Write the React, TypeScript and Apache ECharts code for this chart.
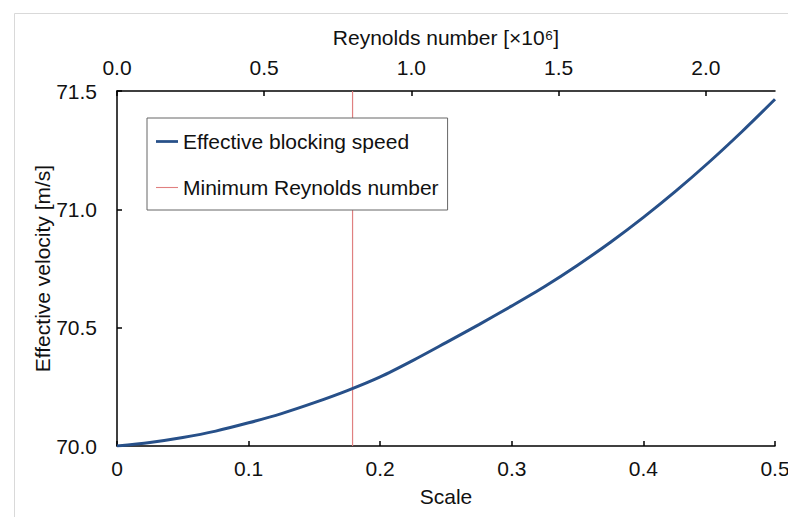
import React, { useEffect, useRef } from "react";
import * as echarts from "echarts";

// Model scale (x) and effective blocking speed in m/s (y)
const scaleValues = [
  0, 0.025, 0.05, 0.075, 0.1, 0.125, 0.15, 0.175, 0.2, 0.225, 0.25, 0.275,
  0.3, 0.325, 0.35, 0.375, 0.4, 0.425, 0.45, 0.475, 0.5,
];
const effectiveSpeed = [
  70.0, 70.015, 70.036, 70.063, 70.098, 70.137, 70.183, 70.234, 70.292,
  70.362, 70.437, 70.513, 70.592, 70.674, 70.764, 70.861, 70.966, 71.079,
  71.2, 71.329, 71.465,
];

// Scale at which the minimum Reynolds number is reached
const minReynoldsScale = 0.179;
const velocityRange = [70.0, 71.5];

// Reynolds number range (×10^6) matching scale 0 … 0.5
const reynoldsRange = [0, 2.235];

const seriesNames = ["Effective blocking speed", "Minimum Reynolds number"];
const axisNames = {
  x: "Scale",
  xTop: "Reynolds number [×10⁶]",
  y: "Effective velocity [m/s]",
};

const FONT = "'Liberation Sans', Arial, sans-serif";
const TEXT = "#111";
const AXIS = "#000";
const BLUE = "#275089";
const RED = "#e08080";

export default function App() {
  const ref = useRef<HTMLDivElement>(null);

  useEffect(() => {
    document.body.style.margin = "0";
    if (!ref.current) return;
    const chart = echarts.init(ref.current, null, { renderer: "svg" });

    const curve = scaleValues.map((s, i) => [s, effectiveSpeed[i]]);
    const marker = velocityRange.map((v) => [minReynoldsScale, v]);

    const axisLine = { show: true, lineStyle: { color: AXIS, width: 1.5 } };
    const axisTick = {
      show: true,
      inside: true,
      length: 5,
      lineStyle: { color: AXIS, width: 1.5 },
    };
    const label = { color: TEXT, fontFamily: FONT, fontSize: 21 };
    const nameStyle = { color: TEXT, fontFamily: FONT, fontSize: 21 };

    chart.setOption({
      animation: false,
      backgroundColor: "#fff",
      textStyle: { fontFamily: FONT },
      grid: {
        left: 117,
        right: 13,
        top: 91,
        bottom: 71,
        containLabel: false,
        outerBoundsMode: "none",
      },
      graphic: [
        {
          type: "rect",
          shape: { x: 14.5, y: 13.5, width: 800, height: 520 },
          style: { fill: "none", stroke: "#d9d9d9", lineWidth: 1 },
          silent: true,
          z: -10,
        },
      ],
      legend: {
        orient: "vertical",
        left: 147,
        top: 118,
        width: 305,
        padding: [13, 9, 12, 9],
        itemGap: 25,
        itemWidth: 22,
        itemHeight: 14,
        backgroundColor: "#fff",
        borderColor: "#666",
        borderWidth: 1,
        borderRadius: 0,
        textStyle: { color: TEXT, fontFamily: FONT, fontSize: 21 },
        data: [
          {
            name: seriesNames[0],
            icon: "path://M0,0H24V3H0Z",
            itemStyle: { color: BLUE },
          },
          {
            name: seriesNames[1],
            icon: "path://M0,0H24V1.2H0Z",
            itemStyle: { color: RED },
          },
        ],
      },
      xAxis: [
        {
          type: "value",
          position: "bottom",
          min: 0,
          max: 0.5,
          interval: 0.1,
          name: axisNames.x,
          nameLocation: "middle",
          nameGap: 40,
          nameMoveOverlap: false,
          nameTextStyle: nameStyle,
          axisLine,
          axisTick,
          splitLine: { show: false },
          axisLabel: { ...label, margin: 12 },
        },
        {
          type: "value",
          position: "top",
          min: reynoldsRange[0],
          max: reynoldsRange[1],
          interval: 0.5,
          name: axisNames.xTop,
          nameLocation: "middle",
          nameGap: 43,
          nameMoveOverlap: false,
          nameTextStyle: nameStyle,
          axisLine,
          axisTick,
          splitLine: { show: false },
          axisLabel: {
            ...label,
            margin: 13,
            showMaxLabel: false,
            formatter: (v: number) => v.toFixed(1),
          },
        },
      ],
      yAxis: {
        type: "value",
        min: velocityRange[0],
        max: velocityRange[1],
        interval: 0.5,
        name: axisNames.y,
        nameLocation: "middle",
        nameGap: 64,
        nameRotate: 90,
        nameMoveOverlap: false,
        nameTextStyle: nameStyle,
        axisLine,
        axisTick,
        splitLine: { show: false },
        axisLabel: {
          ...label,
          margin: 20,
          formatter: (v: number) => v.toFixed(1),
        },
      },
      series: [
        {
          name: seriesNames[0],
          type: "line",
          xAxisIndex: 0,
          data: curve,
          smooth: 0.3,
          symbol: "none",
          z: 3,
          lineStyle: { color: BLUE, width: 3 },
          itemStyle: { color: BLUE },
        },
        {
          name: seriesNames[1],
          type: "line",
          xAxisIndex: 0,
          data: marker,
          symbol: "none",
          z: 2,
          lineStyle: { color: RED, width: 1.2 },
          itemStyle: { color: RED },
        },
      ],
    });

    return () => chart.dispose();
  }, []);

  return <div ref={ref} style={{ width: 788, height: 517 }} />;
}
